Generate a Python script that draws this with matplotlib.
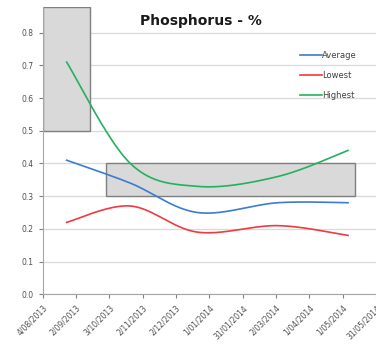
import numpy as np
import matplotlib.pyplot as plt
from matplotlib.patches import Rectangle

# date labels on the x axis (one per ~30 days)
date_labels = ["4/08/2013", "2/09/2013", "3/10/2013", "2/11/2013", "2/12/2013",
               "1/01/2014", "31/01/2014", "2/03/2014", "1/04/2014", "1/05/2014",
               "31/05/2014"]

# sample positions, in units of the tick spacing
sample_x = [0.72, 2.63, 4.65, 7.05, 9.16]
average = [0.41, 0.34, 0.25, 0.28, 0.28]
lowest = [0.22, 0.27, 0.19, 0.21, 0.18]
highest = [0.71, 0.40, 0.33, 0.36, 0.44]

# target bands: (x0, x1, y0, y1)
band_x = [(0.0, 1.42), (1.9, 9.38)]
band_y = [(0.5, 0.88), (0.3, 0.4)]


def smooth(x, y, n=40):
    # Catmull-Rom style bezier, like a spreadsheet "smoothed line"
    x = np.asarray(x, float)
    y = np.asarray(y, float)
    px = np.concatenate([[x[0]], x, [x[-1]]])
    py = np.concatenate([[y[0]], y, [y[-1]]])
    t = np.linspace(0, 1, n)
    xs, ys = [], []
    for i in range(1, len(px) - 2):
        p0 = np.array([px[i], py[i]])
        p3 = np.array([px[i + 1], py[i + 1]])
        p1 = p0 + (p3 - np.array([px[i - 1], py[i - 1]])) / 6
        p2 = p3 - (np.array([px[i + 2], py[i + 2]]) - p0) / 6
        b = ((1 - t) ** 3)[:, None] * p0 + (3 * (1 - t) ** 2 * t)[:, None] * p1 \
            + (3 * (1 - t) * t ** 2)[:, None] * p2 + (t ** 3)[:, None] * p3
        xs.append(b[:, 0])
        ys.append(b[:, 1])
    return np.concatenate(xs), np.concatenate(ys)


fig = plt.figure(figsize=(3.76, 3.45), dpi=100)
ax = fig.add_axes([0.1135, 0.147, 0.8865, 0.834])

for (x0, x1), (y0, y1) in zip(band_x, band_y):
    ax.add_patch(Rectangle((x0, y0), x1 - x0, y1 - y0, facecolor="#d9d9d9",
                           edgecolor="#7f7f7f", linewidth=1.0, zorder=2))

for vals, col, name in [(average, "#3a7cd0", "Average"),
                        (lowest, "#f03a40", "Lowest"),
                        (highest, "#25b060", "Highest")]:
    sx, sy = smooth(sample_x, vals)
    ax.plot(sx, sy, color=col, linewidth=1.2, label=name, zorder=3)

ax.set_xlim(0, 10)
ax.set_ylim(0, 0.88)
ax.set_yticks(np.arange(0, 0.81, 0.1))
ax.set_yticklabels([f"{v:.1f}" for v in np.arange(0, 0.81, 0.1)])
ax.set_xticks(range(len(date_labels)))
ax.set_xticklabels(date_labels, rotation=45, ha="right", rotation_mode="anchor")
ax.tick_params(axis="both", labelsize=5.5, colors="#808080", labelcolor="#505050",
               length=3, width=0.8)

ax.yaxis.grid(True, color="#d9d9d9", linewidth=0.9, zorder=0)
ax.set_axisbelow(True)
for side in ["top", "right"]:
    ax.spines[side].set_visible(False)
for side in ["left", "bottom"]:
    ax.spines[side].set_color("#a6a6a6")

fig.text(0.535, 0.94, "Phosphorus - %", ha="center", va="center",
         fontsize=10, fontweight="bold", color="#1a1a1a")

ax.legend(loc="upper left", bbox_to_anchor=(0.772, 0.846), frameon=False,
          borderaxespad=0, borderpad=0,
          fontsize=6, handlelength=2.6, handletextpad=0.05, labelspacing=1.3,
          labelcolor="#404040")

fig.savefig("out.png", dpi=100)
